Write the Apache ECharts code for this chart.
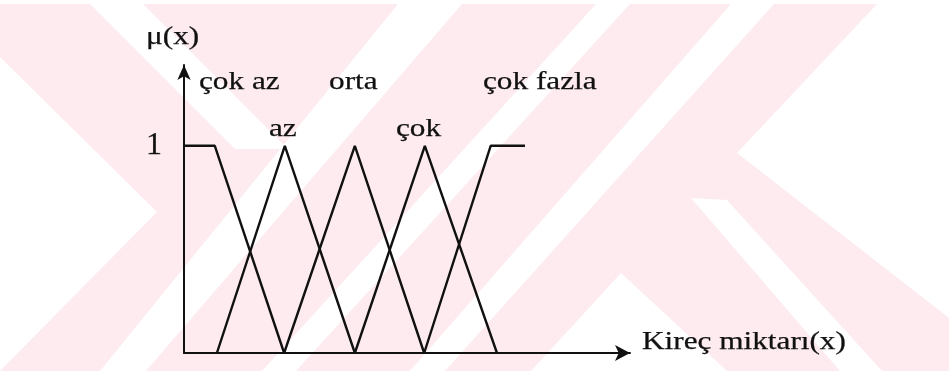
<!DOCTYPE html>
<html>
<head>
<meta charset="utf-8">
<script src="https://cdn.jsdelivr.net/npm/echarts@6/dist/echarts.min.js"></script>
<style>
html,body{margin:0;padding:0;background:#fff;}
#c{width:949px;height:371px;}
</style>
</head>
<body>
<div id="c"></div>
<script>
// ---- data (fuzzy membership functions, x in arbitrary units) ----
const setNames = ["çok az", "az", "orta", "çok", "çok fazla"];
const cokAz    = [[0, 1], [0.44, 1], [1.43, 0]];
const az       = [[0.47, 0], [1.44, 1], [2.44, 0]];
const orta     = [[1.43, 0], [2.44, 1], [3.43, 0]];
const cok      = [[2.44, 0], [3.44, 1], [4.47, 0]];
const cokFazla = [[3.43, 0], [4.38, 1], [4.87, 1]];
const yTickLabels = ["1"];
const xAxisTitle = "Kireç miktarı(x)";
const yAxisTitle = "μ(x)";

const seriesData = [cokAz, az, orta, cok, cokFazla];

// ---- decoration: faint watermark (pixel polygons, white over pink) ----
const PINK = "#fdebef";
const whiteShapes = [
  [[0,0],[949,0],[949,4],[0,4]],
  [[0,57],[157,212],[0,371]],
  [[90,4],[143,4],[288,149],[235,149]],
  [[398,4],[462,4],[146,371],[100,371]],
  [[596,4],[630,4],[296,371],[262,371]],
  [[731,4],[774,4],[445,371],[410,371]],
  [[877,4],[949,4],[949,318],[737,153]],
  [[691,198],[727,200],[882,371],[840,371]],
  [[621,273],[727,371],[531,371]]
];

const chart = echarts.init(document.getElementById('c'), null, {renderer: 'canvas'});

const FONT = "Liberation Serif";
const INK = "#111";
const textStyleBase = {fontFamily: FONT, fontSize: 25, fill: INK, stroke: INK, lineWidth: 0.25};
const labelLayout = [
  {text: yAxisTitle, x: 146, y: 37},
  {text: setNames[0], x: 199, y: 82},
  {text: setNames[2], x: 329, y: 82},
  {text: setNames[4], x: 483, y: 82},
  {text: setNames[1], x: 269, y: 129},
  {text: setNames[3], x: 396, y: 129},
  {text: xAxisTitle, x: 642, y: 342}
];

const graphics = [
  {type: 'rect', shape: {x: 0, y: 0, width: 949, height: 371}, style: {fill: PINK}, z: -20, silent: true}
].concat(whiteShapes.map(p => ({
  type: 'polygon', shape: {points: p}, style: {fill: '#ffffff'}, z: -19, silent: true
}))).concat(labelLayout.map(l => ({
  type: 'text', x: l.x, y: l.y, scaleX: 1.25, z: 50,
  style: Object.assign({text: l.text, align: 'left', verticalAlign: 'middle'}, textStyleBase)
})));

const axisLineStyle = {color: INK, width: 2};

chart.setOption({
  animation: false,
  backgroundColor: 'transparent',
  grid: {left: 184, right: 319, top: 65, bottom: 18, containLabel: false},
  xAxis: {
    type: 'value', min: 0, max: 6.37,
    axisLine: {show: true, onZero: true, lineStyle: axisLineStyle, symbol: ['none', 'arrow'], symbolSize: [12, 15]},
    axisTick: {show: false}, axisLabel: {show: false}, splitLine: {show: false}
  },
  yAxis: {
    type: 'value', min: 0, max: 1.39, interval: 1,
    axisLine: {show: true, lineStyle: axisLineStyle, symbol: ['none', 'arrow'], symbolSize: [10, 15]},
    axisTick: {show: false}, splitLine: {show: false},
    axisLabel: {
      show: true, margin: 22, fontFamily: FONT, fontSize: 32, color: INK,
      textBorderColor: INK, textBorderWidth: 0.25,
      showMaxLabel: false,
      formatter: v => (Math.abs(v - 1) < 1e-9 ? yTickLabels[0] : '')
    }
  },
  graphic: graphics,
  series: seriesData.map((d, i) => ({
    name: setNames[i], type: 'line', data: d, symbol: 'none',
    lineStyle: {color: INK, width: 2.4}, z: 5
  }))
});
</script>
</body>
</html>
